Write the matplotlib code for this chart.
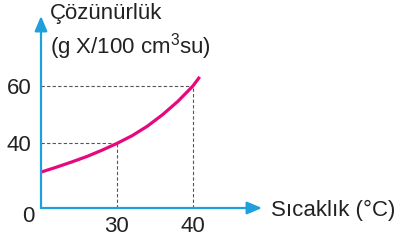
import matplotlib
matplotlib.use("Agg")
import matplotlib.pyplot as plt

# Data (schematic axes: origin corresponds to x=20, y~17.5)
temp = [20, 22, 24, 26, 28, 30, 32, 34, 36, 38, 40, 40.9]
solub = [30, 31.7, 33.5, 35.4, 37.6, 40, 42.7, 46, 50, 54.6, 60, 63.2]
mark_x = [30, 40]
mark_y = [40, 60]
xticks = [30, 40]
yticks = [40, 60]

plt.rcParams['font.family'] = ['Liberation Sans', 'DejaVu Sans']
plt.rcParams['mathtext.fontset'] = 'custom'
plt.rcParams['mathtext.rm'] = 'Liberation Sans'

W, H = 401, 244
fig = plt.figure(figsize=(W / 100, H / 100), dpi=100)
x0, y0, x1, y1 = 41, 208, 262, 16
ax = fig.add_axes([x0 / W, (H - y0) / H, (x1 - x0) / W, (y0 - y1) / H])
xmin, xmax = 20, 49.1
ymin, ymax = 17.5, 84.4
ax.set_xlim(xmin, xmax)
ax.set_ylim(ymin, ymax)
for s in ax.spines.values():
    s.set_visible(False)
ax.patch.set_visible(False)

blue = '#1ea0dc'
magenta = '#e5087e'
txt = '#222222'
# dashed guides
for mx, my in zip(mark_x, mark_y):
    ax.plot([xmin, mx], [my, my], ls=(0, (3, 2)), color='#555555', lw=0.8)
    ax.plot([mx, mx], [ymin, my], ls=(0, (3, 2)), color='#555555', lw=0.8)

ax.plot(temp, solub, color=magenta, lw=2.3, solid_capstyle='butt')

# axes arrows
arrow = dict(arrowstyle='-|>,head_length=0.9,head_width=0.38', color=blue, lw=1.6,
             shrinkA=0, shrinkB=0)
ax.annotate('', xy=(0, 1), xytext=(0, 0), xycoords='axes fraction', arrowprops=arrow,
            annotation_clip=False)
ax.annotate('', xy=(1, 0), xytext=(0, 0), xycoords='axes fraction', arrowprops=arrow,
            annotation_clip=False)

fs = 16
ax.set_xticks(xticks)
ax.set_xticklabels([str(v) for v in xticks])
ax.set_yticks(yticks)
ax.set_yticklabels([str(v) for v in yticks])
ax.tick_params(length=0, labelsize=fs, colors=txt)
ax.tick_params(axis='x', pad=6)
ax.tick_params(axis='y', pad=7)

fig.text(28.5 / W, 1 - 216 / H, '0', fontsize=fs, ha='center', va='center', color=txt)
fig.text(50 / W, 1 - 13 / H, 'Çözünürlük', fontsize=fs, ha='left', va='center', color=txt)
fig.text(50 / W, 1 - 47 / H, r'(g X/100 cm$^{\mathregular{3}}$su)', fontsize=fs,
         ha='left', va='center', color=txt)
fig.text(271 / W, 1 - 210 / H, 'Sıcaklık (°C)', fontsize=fs, ha='left', va='center', color=txt)

fig.savefig('out.png', dpi=100)
